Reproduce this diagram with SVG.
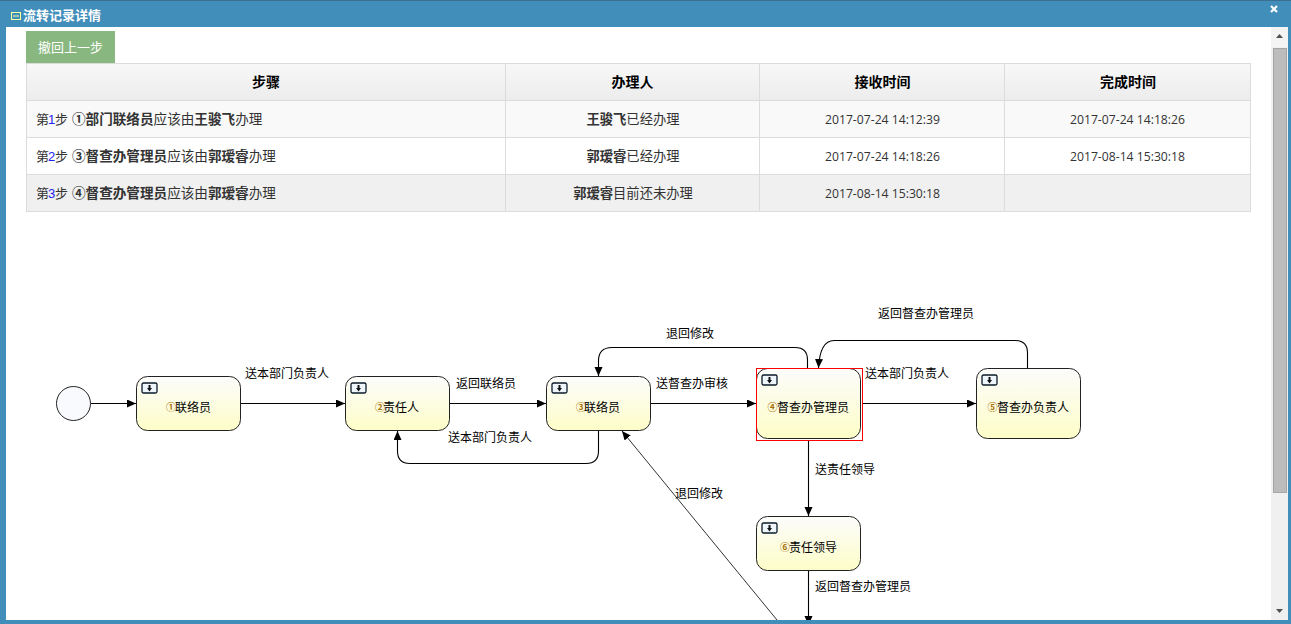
<svg xmlns="http://www.w3.org/2000/svg" width="1291" height="624" viewBox="0 0 1291 624">
<style>
text{font-family:"Liberation Sans","Noto Sans CJK SC",sans-serif;font-size:12px;fill:#000}
.cell{fill:#333;font-size:13.600px}
.cc{fill:#333;font-size:13.300px;text-anchor:middle}
.b{font-weight:bold}
.th{font-size:14px;font-weight:bold;text-anchor:middle;fill:#000}
.date{font-family:"Open Sans","Noto Sans CJK SC",sans-serif;font-size:12.200px;fill:#333;text-anchor:middle}
.mid{text-anchor:middle}
.node{fill:url(#ng);stroke:#222;stroke-width:1}
.conn{fill:none;stroke:#000;stroke-width:1.100}
.ico{fill:#eef6fb;stroke:#0a1a28;stroke-width:1.300}
.num{font-size:10px;font-weight:bold;fill:#a8700a;text-anchor:middle}
.lab{font-size:12px}
</style>
<defs>
<linearGradient id="ng" x1="0" y1="0" x2="0" y2="1"><stop offset="0" stop-color="#fcfcfc"/><stop offset="1" stop-color="#fdfdc8"/></linearGradient>
<linearGradient id="hg" x1="0" y1="0" x2="0" y2="1"><stop offset="0" stop-color="#f8f8f8"/><stop offset="1" stop-color="#ececec"/></linearGradient>
<marker id="arr" markerUnits="userSpaceOnUse" markerWidth="10" markerHeight="10" refX="9" refY="4" orient="auto"><path d="M0 0L9 4L0 8Z" fill="#000"/></marker>
<g id="tico"><rect x="0" y="0" width="15" height="10" rx="1.500" class="ico"/><path d="M6.500 2h2v3h1.500L7.500 8.500L5 5h1.500Z" fill="#111"/></g>
</defs>

<g id="window">
<rect width="1291" height="624" fill="#428eba"/>
<rect width="1291" height="1" fill="#3a6f92"/>
<rect x="6" y="27" width="1282" height="593" fill="#fff"/>
<rect x="11.500" y="12.500" width="9" height="7" fill="none" stroke="#ffffa0" stroke-width="1"/>
<path d="M13 16h6" stroke="#ffffa0"/>
<text x="23" y="20" style="fill:#fff;font-weight:bold;font-size:13px">流转记录详情</text>
<path d="M1271 6l6 6M1277 6l-6 6" stroke="#fff" stroke-width="2.200"/>
</g>

<g id="scrollbar">
<rect x="1271" y="27" width="17" height="593" fill="#f0f0f0"/>
<rect x="1271" y="27" width="17" height="20" fill="#f4f4f4"/>
<rect x="1273.500" y="48.500" width="13" height="444" fill="#bcbcbc" stroke="#a4a4a4"/>
<path d="M1276 38h7l-3.500-4Z" fill="#505050"/>
<path d="M1276 609h7l-3.500 4Z" fill="#505050"/>
</g>

<g id="button">
<rect x="26" y="31" width="89" height="32" fill="#88b87f"/>
<text x="70.500" y="52" class="mid" style="fill:#fff;font-size:13px">撤回上一步</text>
</g>

<g id="table">
<rect x="26" y="63" width="1225" height="38" fill="url(#hg)"/>
<rect x="26" y="101" width="1225" height="37" fill="#f9f9f9"/>
<rect x="26" y="138" width="1225" height="37" fill="#fff"/>
<rect x="26" y="175" width="1225" height="37" fill="#f0f0f0"/>
<g stroke="#dcdcdc" stroke-width="1" fill="none">
<rect x="26.500" y="63.500" width="1224" height="148"/>
<path d="M27 100.500H1250M27 137.500H1250M27 174.500H1250M505.500 64V211M759.500 64V211M1004.500 64V211"/>
</g>
<text x="266" y="87" class="th">步骤</text>
<text x="632.500" y="87" class="th">办理人</text>
<text x="882.500" y="87" class="th">接收时间</text>
<text x="1128" y="87" class="th">完成时间</text>

<text y="124" class="cell"><tspan x="36" font-size="13">第</tspan><tspan x="48" fill="#2222ee" font-size="13">1</tspan><tspan x="55" font-size="13">步</tspan><tspan x="72" class="b">①部门联络员</tspan><tspan>应该由</tspan><tspan class="b">王骏飞</tspan><tspan>办理</tspan></text>
<text y="161" class="cell"><tspan x="36" font-size="13">第</tspan><tspan x="48" fill="#2222ee" font-size="13">2</tspan><tspan x="55" font-size="13">步</tspan><tspan x="72" class="b">③督查办管理员</tspan><tspan>应该由</tspan><tspan class="b">郭瑷睿</tspan><tspan>办理</tspan></text>
<text y="198" class="cell"><tspan x="36" font-size="13">第</tspan><tspan x="48" fill="#2222ee" font-size="13">3</tspan><tspan x="55" font-size="13">步</tspan><tspan x="72" class="b">④督查办管理员</tspan><tspan>应该由</tspan><tspan class="b">郭瑷睿</tspan><tspan>办理</tspan></text>

<text x="633" y="124" class="cc"><tspan class="b">王骏飞</tspan>已经办理</text>
<text x="633" y="161" class="cc"><tspan class="b">郭瑷睿</tspan>已经办理</text>
<text x="633" y="198" class="cc"><tspan class="b">郭瑷睿</tspan>目前还未办理</text>

<text x="882.500" y="124" class="date">2017-07-24 14:12:39</text>
<text x="882.500" y="161" class="date">2017-07-24 14:18:26</text>
<text x="882.500" y="198" class="date">2017-08-14 15:30:18</text>
<text x="1127.500" y="124" class="date">2017-07-24 14:18:26</text>
<text x="1127.500" y="161" class="date">2017-08-14 15:30:18</text>
</g>

<g id="connectors">
<path class="conn" marker-end="url(#arr)" d="M91 403.500H136"/>
<path class="conn" marker-end="url(#arr)" d="M241 403.500H345"/>
<path class="conn" marker-end="url(#arr)" d="M450 403.500H546"/>
<path class="conn" marker-end="url(#arr)" d="M651 403.500H756"/>
<path class="conn" marker-end="url(#arr)" d="M863 403.500H976"/>
<path class="conn" marker-end="url(#arr)" d="M598.500 431V451Q598.500 463.500 586 463.500H410Q397.500 463.500 397.500 451V431"/>
<path class="conn" marker-end="url(#arr)" d="M807.500 368V360Q807.500 347.500 795 347.500H612Q598.500 347.500 598.500 361V376"/>
<path class="conn" marker-end="url(#arr)" d="M1027.500 368V353Q1027.500 340.500 1015 340.500H834Q820 340.500 818.500 368"/>
<path class="conn" marker-end="url(#arr)" d="M808.500 441V516"/>
<path class="conn" marker-end="url(#arr)" d="M808.500 571V625"/>
<path d="M777 620L622 431" fill="none" stroke="#333" stroke-width="1" marker-end="url(#arr)"/>
</g>

<g id="labels">
<text x="245" y="378" class="lab">送本部门负责人</text>
<text x="456" y="388" class="lab">返回联络员</text>
<text x="656" y="388" class="lab">送督查办审核</text>
<text x="865" y="378" class="lab">送本部门负责人</text>
<text x="448" y="442" class="lab">送本部门负责人</text>
<text x="666" y="338" class="lab">退回修改</text>
<text x="878" y="318" class="lab">返回督查办管理员</text>
<text x="815" y="474" class="lab">送责任领导</text>
<text x="675" y="498" class="lab">退回修改</text>
<text x="815" y="591" class="lab">返回督查办管理员</text>
</g>

<g id="start"><circle cx="73.500" cy="403.500" r="17" fill="#f8fafd" stroke="#222"/></g>

<g id="n1">
<rect class="node" x="136.500" y="376.500" width="104" height="54" rx="11"/>
<use href="#tico" x="142" y="383"/>
<text x="171" y="411" class="num">①</text><text x="175" y="412">联络员</text>
</g>
<g id="n2">
<rect class="node" x="345.500" y="376.500" width="104" height="54" rx="11"/>
<use href="#tico" x="351" y="383"/>
<text x="380" y="411" class="num">②</text><text x="383" y="412">责任人</text>
</g>
<g id="n3">
<rect class="node" x="546.500" y="376.500" width="104" height="54" rx="11"/>
<use href="#tico" x="552" y="383"/>
<text x="581" y="411" class="num">③</text><text x="584" y="412">联络员</text>
</g>
<g id="n4">
<rect class="node" x="756.500" y="368.500" width="104" height="70" rx="11"/>
<rect x="756.500" y="368.500" width="106" height="72" fill="none" stroke="#f00" stroke-width="1"/>
<use href="#tico" x="762" y="375"/>
<text x="772.500" y="411" class="num">④</text><text x="777" y="412">督查办管理员</text>
</g>
<g id="n5">
<rect class="node" x="976.500" y="368.500" width="104" height="70" rx="11"/>
<use href="#tico" x="982" y="375"/>
<text x="992.500" y="411" class="num">⑤</text><text x="997" y="412">督查办负责人</text>
</g>
<g id="n6">
<rect class="node" x="756.500" y="516.500" width="104" height="54" rx="11"/>
<use href="#tico" x="762" y="523"/>
<text x="785" y="551" class="num">⑥</text><text x="789" y="552">责任领导</text>
</g>

<g id="frame-bottom"><rect x="0" y="620" width="1291" height="4" fill="#428eba"/></g>
</svg>
